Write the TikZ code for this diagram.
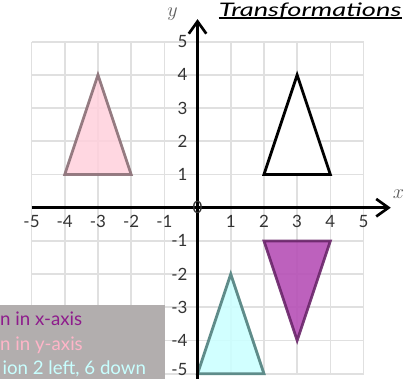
\documentclass[tikz,border=0pt]{standalone}
\usepackage{fontspec}
\setmainfont{Lato}
\usetikzlibrary{arrows.meta}
\definecolor{gridc}{HTML}{E0E0E0}
\definecolor{tickc}{HTML}{333333}
\definecolor{boxc}{HTML}{B2AEAE}
\definecolor{pinkf}{HTML}{FFD0DC}
\definecolor{pinkd}{HTML}{8A6F76}
\definecolor{purpf}{HTML}{B650B6}
\definecolor{purpd}{HTML}{6A266A}
\definecolor{cyanf}{HTML}{CCFFFF}
\definecolor{cyand}{HTML}{5F8C8A}
\definecolor{txtpurp}{HTML}{8E1C8C}
\definecolor{txtpink}{HTML}{FFB5C8}
\definecolor{txtcyan}{HTML}{C8FFFF}
\begin{document}
\begin{tikzpicture}[x=1cm,y=1cm,
  gridline/.style={draw=gridc,line width=1.4pt},
  axisline/.style={line width=2.3pt,-{Straight Barb[length=10.5pt,width=15pt]}},
  tri/.style={line width=2.4pt},
  tick/.style={text=tickc,font=\fontsize{14.5}{16}\selectfont,inner sep=0pt},
  boxtext/.style={font=\fontsize{16}{18}\selectfont,inner sep=0pt,anchor=base west},
  axlabel/.style={text=tickc!80,font=\fontsize{18}{20}\selectfont,inner sep=0pt}]
\useasboundingbox (-5.95,-5.13) rectangle (6.67,6.256);
\clip (-5.95,-5.13) rectangle (6.67,6.256);
% grid
\draw[gridline] (-5,-5) grid (5,5);
% legend box
\fill[boxc] (-6,-6) rectangle (-0.98,-2.93);
\node[boxtext,text=txtpurp] (l1) at (-5.95,-3.55) {n in x-axis};
\node[boxtext,text=txtpink] (l2) at (-5.95,-4.31) {n in y-axis};
\node[boxtext,text=txtcyan] (l3) at (-5.88,-5.02) {ion 2 left, 6 down};
% triangles
\filldraw[tri,fill=pinkf,fill opacity=0.85,draw=pinkd,draw opacity=0.9] (-4,1) -- (-2,1) -- (-3,4) -- cycle;
\filldraw[tri,fill=white,draw=black] (2,1) -- (4,1) -- (3,4) -- cycle;
\filldraw[tri,fill=purpf,fill opacity=0.9,draw=purpd,draw opacity=0.9] (2,-1) -- (4,-1) -- (3,-4) -- cycle;
\filldraw[tri,fill=cyanf,fill opacity=0.9,draw=cyand] (0,-5) -- (2,-5) -- (1,-2) -- cycle;
% axes
\coordinate (xa) at (-5,0);
\coordinate (xb) at (5.82,0);
\coordinate (ya) at (0,-5.3);
\coordinate (yb) at (0,5.68);
\draw[axisline] (xa) -- (xb);
\draw[axisline] (ya) -- (yb);
\node[axlabel] (xl) at (6.05,0.4) {$x$};
\node[axlabel] (yl) at (-0.75,5.82) {$y$};
% ticks
\foreach \i in {-4,-3,-2,-1,1,2,3,4,5} {
  \node[tick,anchor=east] (yt\i) at (-0.3,\i) {\i};
}
\foreach \i in {-5,-4,-3,-2,-1,1,2,3,4,5} {
  \node[tick] (xt\i) at (\i,-0.42) {\i};
}
\node[tick,anchor=east] (yt-5) at (-0.3,-4.86) {-5};
\node[tick] (o) at (0,0) {0};
% title
\node[inner sep=0pt,anchor=base] (title) at (3.39,5.77) {\scalebox{1.46}[1]{\fontsize{16}{18}\itshape\selectfont Transformations}};
\draw[line width=1.6pt] ([yshift=-1.6pt]title.base west) -- ([yshift=-1.6pt]title.base east);
\end{tikzpicture}
\end{document}
